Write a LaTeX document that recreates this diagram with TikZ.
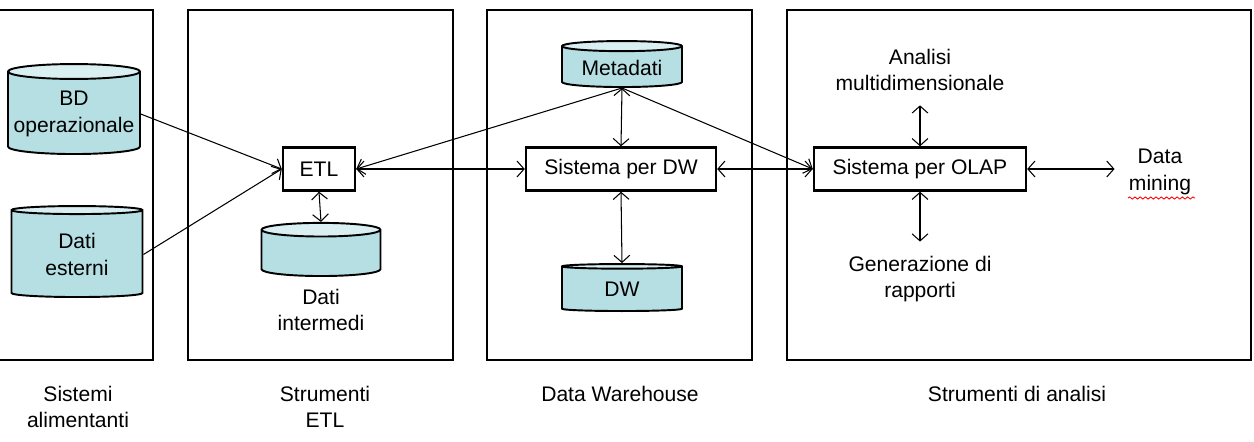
\documentclass[tikz,border=0pt]{standalone}
\usepackage{fontspec}
\setsansfont{Liberation Sans}
\usetikzlibrary{positioning, arrows.meta, shapes.geometric, decorations.pathmorphing}
\definecolor{cylbody}{RGB}{182,223,228}
\definecolor{cyltop}{RGB}{218,239,241}

\begin{document}
\begin{tikzpicture}[x=0.02cm, y=0.02cm,
  font=\sffamily\fontsize{12}{15}\selectfont,
  area/.style={line width=1.6pt},
  proc/.style={draw, line width=1.4pt, minimum height=0.86cm, inner sep=2pt},
  store/.style={cylinder, shape border rotate=90, draw, line width=1.1pt,
                cylinder uses custom fill, cylinder body fill=cylbody,
                cylinder end fill=cyltop, aspect=0.12, inner xsep=1pt,
                inner ysep=2pt, align=center, anchor=south},
  lbl/.style={align=center, inner sep=8pt},
  flow/.style={-{Straight Barb[length=4pt,width=9pt]}, line width=0.6pt},
  biflow/.style={{Straight Barb[length=4pt,width=9pt]}-{Straight Barb[length=4pt,width=9pt]}, line width=0.6pt},
]
  \useasboundingbox (0,0) rectangle (1254,-442);

  % The four areas
  \draw[area] (-10,-10) rectangle (153,-360);
  \draw[area] (188,-10) rectangle (453,-360);
  \draw[area] (487,-10) rectangle (752,-360);
  \draw[area] (787,-10) rectangle (1251,-360);

  \node[anchor=north, align=center] (capsrc) at (78,-380) {Sistemi\\alimentanti};
  \node[anchor=north, align=center] (capetl) at (325,-380) {Strumenti\\ETL};
  \node[anchor=north, align=center] (capdw) at (620,-380) {Data Warehouse};
  \node[anchor=north, align=center] (capana) at (1017,-380) {Strumenti di analisi};

  % Sources
  \node[store, minimum width=2.64cm, minimum height=1.8cm] (bdop) at (74,-155) {BD\\operazionale};
  \node[store, minimum width=2.62cm, minimum height=1.82cm] (ext) at (77,-298) {Dati\\esterni};

  % ETL
  \node[proc, minimum width=1.44cm] (etl) at (319,-169) {ETL};
  \node[store, minimum width=2.38cm, minimum height=0.96cm] (inter) at (321,-277) {\hspace*{2.2cm}\strut};
  \node[align=center] (intertxt) at (321,-310) {Dati\\intermedi};

  % Data warehouse
  \node[store, minimum width=2.4cm, minimum height=0.92cm] (meta) at (622,-88) {Metadati};
  \node[proc, minimum width=3.8cm] (sdw) at (621,-169) {Sistema per DW};
  \node[store, minimum width=2.4cm, minimum height=0.94cm] (dw) at (622,-312) {DW};

  % Analysis
  \node[proc, minimum width=4.24cm] (olap) at (920,-169) {Sistema per OLAP};
  \node[lbl] (ana) at (920,-70) {Analisi\\multidimensionale};
  \node[lbl] (gen) at (920,-279) {Generazione di\\rapporti};
  \node[lbl] (dm) at (1160,-172) {Data\\mining};
  \draw[red, line width=0.5pt, decorate, decoration={snake, amplitude=0.6pt, segment length=3pt}]
    (1128,-198) -- (1195,-198);

  % Connectors
  \draw[flow] (bdop.east) -- (etl.west);
  \draw[flow] (ext.east) -- (etl.west);
  \draw[biflow] (etl.south) -- (inter.north);
  \draw[flow] (meta.south) -- (etl.east);
  \draw[biflow] (etl.east) -- (sdw.west);
  \draw[biflow] (meta.south) -- (sdw.north);
  \draw[biflow] (sdw.south) -- (dw.north);
  \draw[biflow] (sdw.east) -- (olap.west);
  \draw[flow] (meta.south) -- (olap.west);
  \draw[biflow] (olap.north) -- (ana.south);
  \draw[biflow] (olap.south) -- (gen.north);
  \draw[biflow] (olap.east) -- (olap.east -| dm.west);
\end{tikzpicture}
\end{document}
